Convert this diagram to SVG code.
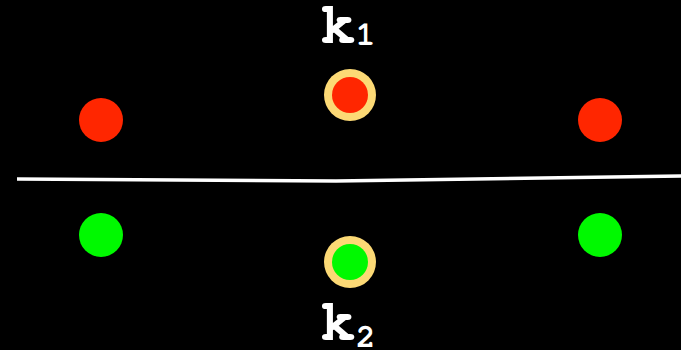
<svg xmlns="http://www.w3.org/2000/svg" width="681" height="350" viewBox="0 0 681 350">
<style>
.red{fill:#ff2600}
.green{fill:#00f900}
.ring{fill:#fcd975}
text{font-family:"Nimbus Mono PS",FreeMono,Courier,"Liberation Mono",monospace;fill:#fff}
.k{font-weight:bold;font-size:60px}
.sub{font-weight:bold;font-size:32px}
</style>
<rect width="681" height="350" fill="#000"/>
<g id="connectors">
<polyline points="17,179 336,181 681,176" fill="none" stroke="#fff" stroke-width="3.5"/>
</g>
<g id="red-left"><circle class="red" cx="101" cy="120" r="22"/></g>
<g id="red-mid"><circle class="ring" cx="350" cy="95" r="26"/><circle class="red" cx="350" cy="95" r="18"/></g>
<g id="red-right"><circle class="red" cx="600" cy="120" r="22"/></g>
<g id="green-left"><circle class="green" cx="101" cy="235" r="22"/></g>
<g id="green-mid"><circle class="ring" cx="350" cy="262" r="26"/><circle class="green" cx="350" cy="262" r="18"/></g>
<g id="green-right"><circle class="green" cx="600" cy="235" r="22"/></g>
<g id="label-k1"><text x="320" y="43" class="k">k<tspan class="sub" dy="2">1</tspan></text></g>
<g id="label-k2"><text x="320" y="340" class="k">k<tspan class="sub" dy="7">2</tspan></text></g>
</svg>
